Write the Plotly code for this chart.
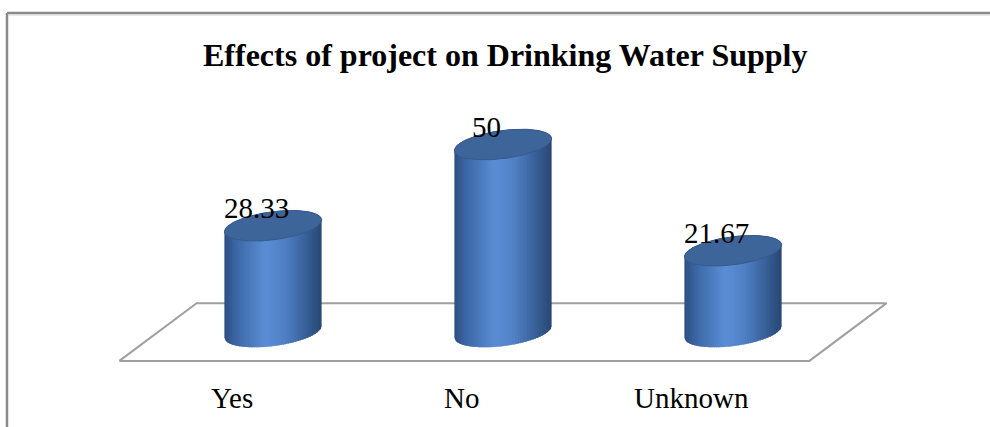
import numpy as np
import plotly.graph_objects as go

# ---- data -------------------------------------------------------------
categories = ["Yes", "No", "Unknown"]
values = [28.33, 50, 21.67]
value_labels = ["28.33", "50", "21.67"]
title_text = "Effects of project on Drinking Water Supply"

# ---- geometry of the pseudo-3D view -----------------------------------
W, H = 990, 427
CAT_PX = 230.0     # horizontal pixels per category step
VAL_PX = 3.75      # vertical pixels per value unit
X0_PX = 273.0      # pixel x of first category centre
BASE_PX = 332.0    # pixel y (from top) of the value-0 plane

x_range = [-X0_PX / CAT_PX, (W - X0_PX) / CAT_PX]
y_range = [-(H - BASE_PX) / VAL_PX, BASE_PX / VAL_PX]

# cylinder cross-section in pixels (semi-axes and tilt)
A, B, TILT = 49.0, 14.0, np.deg2rad(7.5)
COS, SIN = np.cos(TILT), np.sin(TILT)

# floor depth offset (data units)
DEPTH_DX, DEPTH_DY = 0.168, 7.7

SERIF = "Liberation Serif, Times New Roman, serif"


def ellipse_pts(n=140):
    t = np.linspace(0, 2 * np.pi, n)
    ex, ey = A * np.cos(t), B * np.sin(t)
    return ex * COS - ey * SIN, ex * SIN + ey * COS


def arc_y(xp):
    """Lower and upper y offsets (px, y up) of the tilted ellipse at x offset xp."""
    qa = SIN ** 2 / A ** 2 + COS ** 2 / B ** 2
    qb = 2 * xp * (COS * SIN / A ** 2 - SIN * COS / B ** 2)
    qc = xp ** 2 * (COS ** 2 / A ** 2 + SIN ** 2 / B ** 2) - 1
    r = np.sqrt(np.maximum(qb * qb - 4 * qa * qc, 0))
    return (-qb - r) / (2 * qa), (-qb + r) / (2 * qa)


X_HALF = np.sqrt((A * COS) ** 2 + (B * SIN) ** 2)

# horizontal shading across the cylinder body
STOPS = [
    (0.00, (44, 78, 128)),
    (0.12, (60, 103, 165)),
    (0.42, (90, 142, 212)),
    (0.62, (80, 128, 196)),
    (0.85, (55, 94, 150)),
    (1.00, (40, 70, 115)),
]


def shade(u):
    for (u0, c0), (u1, c1) in zip(STOPS[:-1], STOPS[1:]):
        if u <= u1:
            f = (u - u0) / (u1 - u0)
            c = [round(a + (b - a) * f) for a, b in zip(c0, c1)]
            return "rgb({},{},{})".format(*c)
    return "rgb({},{},{})".format(*STOPS[-1][1])


fig = go.Figure()

# ---- floor ------------------------------------------------------------
n = len(categories)
fx = [-0.5 - DEPTH_DX, -0.5 + DEPTH_DX, n - 0.5 + DEPTH_DX, n - 0.5 - DEPTH_DX, -0.5 - DEPTH_DX]
fy = [-DEPTH_DY, DEPTH_DY, DEPTH_DY, -DEPTH_DY, -DEPTH_DY]
fig.add_trace(go.Scatter(x=fx, y=fy, mode="lines", fill="toself", fillcolor="white",
                         line=dict(color="#a0a0a0", width=2), hoverinfo="skip",
                         showlegend=False))

# ---- cylinders --------------------------------------------------------
N_STRIPS = 40
OVERLAP = 1.5  # px each strip reaches into its right neighbour
edges = np.linspace(-X_HALF, X_HALF, N_STRIPS + 1)
ex, ey = ellipse_pts()

for i, v in enumerate(values):
    h = v * VAL_PX
    for k in range(N_STRIPS):
        right = min(edges[k + 1] + OVERLAP, X_HALF)
        xs = np.linspace(edges[k], right, 4)
        low_b, _ = arc_y(xs)
        _, high_t = arc_y(xs)
        px = np.concatenate([xs, xs[::-1]])
        py = np.concatenate([low_b, (h + high_t)[::-1]])
        col = shade((k + 0.5) / N_STRIPS)
        fig.add_trace(go.Scatter(
            x=i + px / CAT_PX, y=py / VAL_PX, mode="lines", fill="toself",
            fillcolor=col, line=dict(width=0),
            hoverinfo="skip", showlegend=False))
    # top cap
    fig.add_trace(go.Scatter(
        x=i + ex / CAT_PX, y=(h + ey) / VAL_PX, mode="lines", fill="toself",
        fillcolor="rgb(62,101,153)", line=dict(color="rgb(54,90,140)", width=1),
        hoverinfo="skip", showlegend=False))

# ---- labels -----------------------------------------------------------
annotations = []
for i, (v, t) in enumerate(zip(values, value_labels)):
    annotations.append(dict(x=i - 0.07, y=v + 4.8, xref="x", yref="y", text=t,
                            showarrow=False, xanchor="center", yanchor="middle",
                            font=dict(family=SERIF, size=29, color="black")))
for i, c in enumerate(categories):
    annotations.append(dict(x=i - 0.18, y=-17.6, xref="x", yref="y", text=c,
                            showarrow=False, xanchor="center", yanchor="middle",
                            font=dict(family=SERIF, size=29, color="black")))
annotations.append(dict(x=505 / W, y=1 - 55 / H, xref="paper", yref="paper",
                        text="<b>" + title_text + "</b>", showarrow=False,
                        xanchor="center", yanchor="middle",
                        font=dict(family=SERIF, size=32, color="black")))

# ---- chart frame ------------------------------------------------------
fx0, fy0 = 7 / W, 1 - 13 / H
shapes = [
    dict(type="line", xref="paper", yref="paper", x0=fx0, y0=fy0, x1=1, y1=fy0,
         line=dict(color="#8a8a8a", width=2.5)),
    dict(type="line", xref="paper", yref="paper", x0=fx0, y0=fy0, x1=fx0, y1=0,
         line=dict(color="#8a8a8a", width=2.5)),
    dict(type="line", xref="paper", yref="paper", x0=fx0 + 2 / W, y0=fy0 - 2 / H, x1=1,
         y1=fy0 - 2 / H, line=dict(color="#d4d4d4", width=1)),
]

fig.update_layout(
    width=W, height=H, margin=dict(l=0, r=0, t=0, b=0),
    paper_bgcolor="white", plot_bgcolor="white",
    xaxis=dict(range=x_range, visible=False, fixedrange=True),
    yaxis=dict(range=y_range, visible=False, fixedrange=True),
    annotations=annotations, shapes=shapes, showlegend=False,
)

fig.write_html("out.html")
